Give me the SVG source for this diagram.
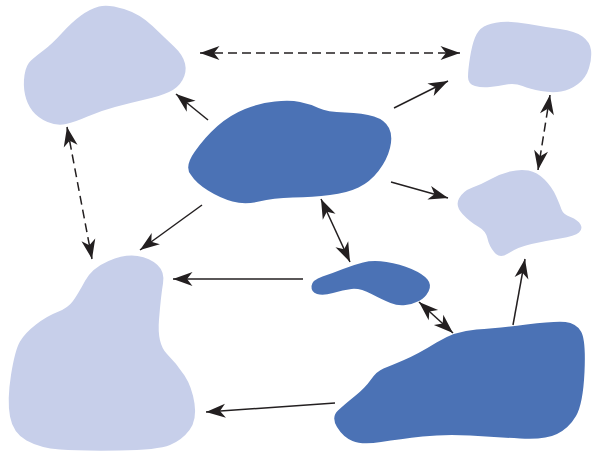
<svg xmlns="http://www.w3.org/2000/svg" width="595" height="457" viewBox="0 0 595 457">
<style>
.light{fill:#c7cfea}
.dark{fill:#4b72b5}
.c{stroke:#231f20;stroke-width:1.5;fill:none}
.d{stroke-dasharray:9 5}
</style>
<defs>
<marker id="ah" markerUnits="userSpaceOnUse" markerWidth="21" markerHeight="15" viewBox="0 0 21 15" refX="20.5" refY="7.5" orient="auto-start-reverse">
<path d="M20.5,7.5 L1,0.5 L6.5,7.5 L1,14.5 Z" fill="#231f20"/>
</marker>
</defs>
<rect width="595" height="457" fill="#ffffff"/>
<g id="node-a"><path class="light" d="M124,9 Q140,14 152.5,26 Q165,38 174,46.5 Q183,55 185,63.5 Q187,72 182.5,80 Q178,88 169,92 Q160,96 145,99.5 Q130,103 115,107 Q100,111 87.5,116.5 Q75,122 66,124 Q57,126 47.5,122 Q38,118 32.5,111 Q27,104 25,94.5 Q23,85 24.5,75 Q26,65 31,60.5 Q36,56 44,50 Q52,44 62,33 Q72,22 81,15.5 Q90,9 99,6.5 Q108,4 124,9 Z"/></g>
<g id="node-b"><path class="dark" d="M300,102 Q310,104 318.5,108 Q327,112 345,112.5 Q363,113 374,116.5 Q385,120 389,128 Q393,136 390,148 Q387,160 378.5,171 Q370,182 358.5,187.5 Q347,193 330,195 Q313,197 293,197.5 Q273,198 259,201.5 Q245,205 232.5,201.5 Q220,198 208,190.5 Q196,183 191,175 Q184,167 194.5,152 Q205,137 217.5,126 Q230,115 245,109 Q260,103 275,101.5 Q290,100 300,102 Z"/></g>
<g id="node-c"><path class="light" d="M501,22 Q512,21 528.5,24 Q545,27 560,29 Q575,31 582.5,36.5 Q590,42 591,50 Q592,58 589,68 Q586,78 578,84 Q570,90 561,91.5 Q552,93 541,91 Q530,89 522.5,86 Q515,83 506.5,84.5 Q498,86 490,87 Q482,88 475,86 Q468,84 468,77 Q468,70 470,57.5 Q472,45 475,37.5 Q478,30 484,26.5 Q490,23 501,22 Z"/></g>
<g id="node-d"><path class="light" d="M528.5,170.5 Q537,172 544.5,179.5 Q552,187 556,196 Q560,205 561.5,209.5 Q563,214 570.5,217 Q578,220 580.5,224.5 Q583,229 579,232.5 Q575,236 560,238.5 Q545,241 531.5,244 Q518,247 509,253 Q500,259 494.5,252.5 Q489,246 487.5,238.5 Q486,231 478,226.5 Q470,222 462.5,214 Q455,206 459,198.5 Q463,191 472.5,187.5 Q482,184 491,179 Q500,174 510,171.5 Q520,169 528.5,170.5 Z"/></g>
<g id="node-e"><path class="dark" d="M363,262.5 Q373,260 386.5,262 Q400,264 411.5,269 Q423,274 427.5,279.5 Q432,285 428.5,291.5 Q425,298 419,301 Q413,304 405.5,305 Q398,306 390.5,303 Q383,300 371.5,294 Q360,288 351.5,289 Q343,290 333,293 Q323,296 317,294 Q311,292 311.5,286 Q312,280 322.5,276.5 Q333,273 343,269 Q353,265 363,262.5 Z"/></g>
<g id="node-f"><path class="light" d="M137.5,256 Q150,258 157.5,265 Q165,272 163,283.5 Q161,295 159,319.5 Q157,344 167,354 Q177,364 184.5,375.5 Q192,387 194.5,403.5 Q197,420 189.5,430 Q182,440 170,445 Q158,450 119,450.5 Q80,451 60,449.5 Q40,448 26.5,440.5 Q13,433 10,416.5 Q7,400 11,375 Q15,350 20,341.5 Q25,333 36,324.5 Q47,316 57.5,312 Q68,308 73,301 Q78,294 85,281 Q92,268 108.5,261 Q125,254 137.5,256 Z"/></g>
<g id="node-g"><path class="dark" d="M476.5,329.5 Q498,328 526.5,324.5 Q555,321 565.5,322 Q576,323 581,331.5 Q586,340 584.5,372 Q583,404 576,416 Q569,428 557,434 Q545,440 520,438.5 Q495,437 470,435.5 Q445,434 422.5,436.5 Q400,439 381,442 Q362,445 352.5,441 Q343,437 337,427 Q331,417 338,410.5 Q345,404 355,396 Q365,388 371,379.5 Q377,371 383.5,368.5 Q390,366 404,360 Q418,354 436.5,342.5 Q455,331 476.5,329.5 Z"/></g>
<g id="connectors">
<line class="c d" x1="200" y1="53" x2="460" y2="53" marker-start="url(#ah)" marker-end="url(#ah)"/>
<line class="c" x1="208" y1="120" x2="176" y2="94" marker-end="url(#ah)"/>
<line class="c" x1="394" y1="108" x2="448" y2="81" marker-end="url(#ah)"/>
<line class="c" x1="391" y1="182" x2="448" y2="198" marker-end="url(#ah)"/>
<line class="c d" x1="550" y1="95" x2="538" y2="170" marker-start="url(#ah)" marker-end="url(#ah)"/>
<line class="c d" x1="67" y1="127" x2="92" y2="259" marker-start="url(#ah)" marker-end="url(#ah)"/>
<line class="c" x1="202" y1="205" x2="140" y2="250" marker-end="url(#ah)"/>
<line class="c" x1="303" y1="279" x2="173" y2="279" marker-end="url(#ah)"/>
<line class="c" x1="321" y1="199" x2="350" y2="262" marker-start="url(#ah)" marker-end="url(#ah)"/>
<line class="c" x1="419" y1="302" x2="453" y2="333" marker-start="url(#ah)" marker-end="url(#ah)"/>
<line class="c" x1="513" y1="325" x2="525" y2="259" marker-end="url(#ah)"/>
<line class="c" x1="335" y1="403" x2="206" y2="412" marker-end="url(#ah)"/>
</g>
</svg>
